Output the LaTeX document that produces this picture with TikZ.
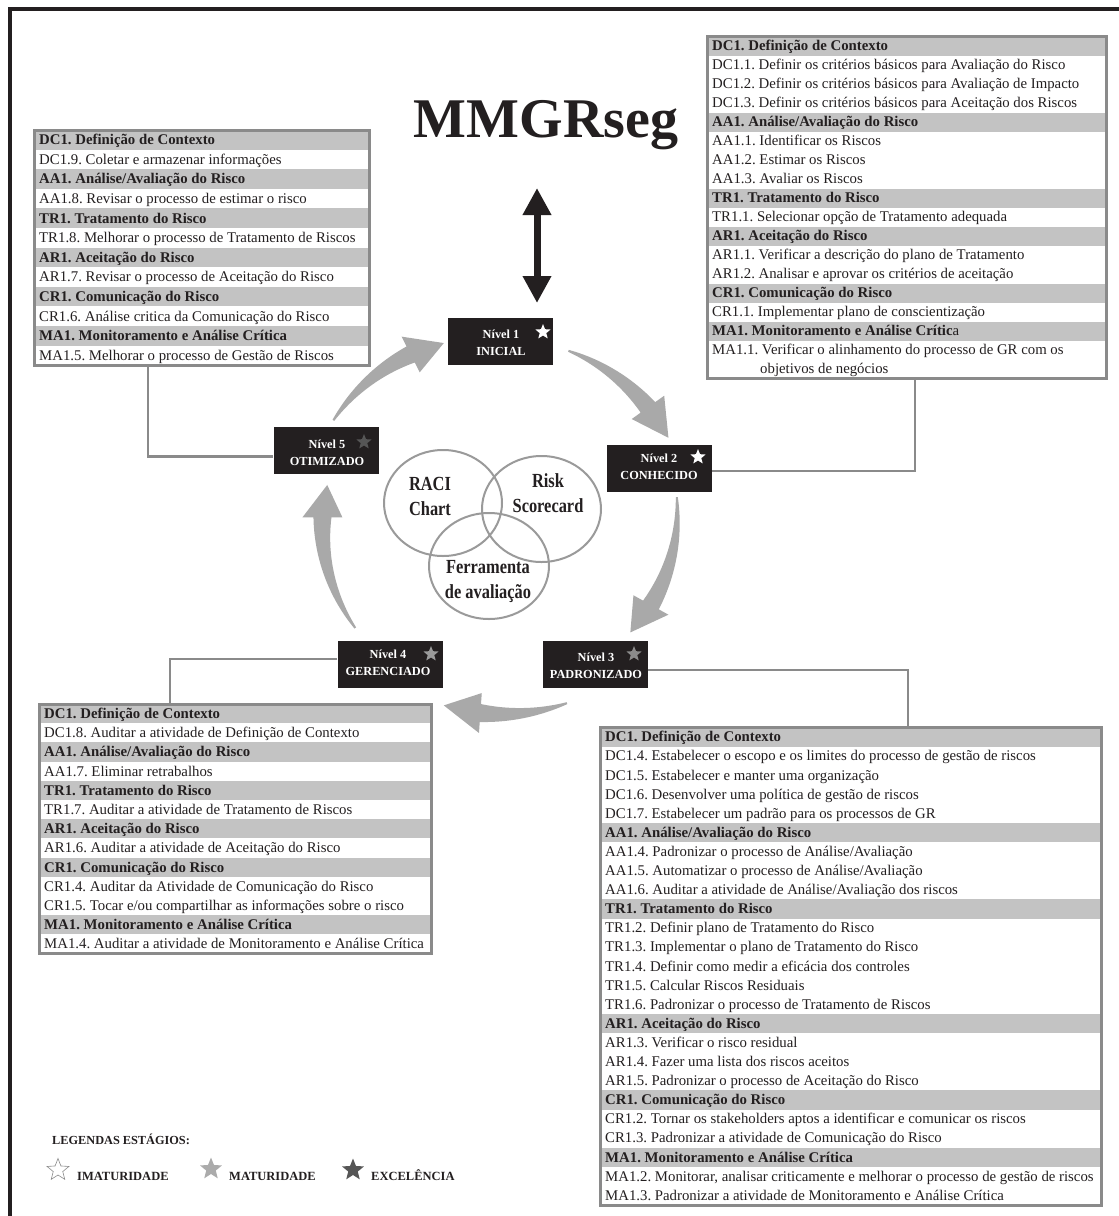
\documentclass[tikz,border=0pt]{standalone}
\usepackage{fontspec}
\setmainfont{Liberation Serif}
\newfontfamily\condfont[FakeStretch=0.82]{Liberation Serif}
\usetikzlibrary{shapes.geometric,arrows.meta,calc}
\frenchspacing
\definecolor{ink}{HTML}{231F20}
\definecolor{headgray}{HTML}{C3C3C3}
\definecolor{bordgray}{HTML}{8A8A8A}
\definecolor{arrgray}{HTML}{A9A9A9}
\definecolor{venngray}{HTML}{9A9A9A}
\definecolor{midstar}{HTML}{9A9A9A}
\definecolor{darkstar}{HTML}{565656}
\newcommand\rowfont{\fontsize{14.8}{17}\selectfont}
\newcommand\tbstart[4]{\def\tbx{#1}\def\tby{#2}\def\tbw{#3}\def\tbh{#4}\def\tbn{0}}
\newcommand\tbhead[1]{%
  \fill[headgray] (\tbx,{\tby+\tbn*\tbh}) rectangle ({\tbx+\tbw},{\tby+(\tbn+1)*\tbh});
  \node[rowtxt,font=\rowfont\bfseries] at ({\tbx+5},{\tby+(\tbn+0.5)*\tbh+4.8}) {#1};
  \pgfmathsetmacro\tbn{\tbn+1}}
\newcommand\tbrow[2][5]{%
  \node[rowtxt,font=\rowfont] at ({\tbx+#1},{\tby+(\tbn+0.5)*\tbh+4.8}) {#2};
  \pgfmathsetmacro\tbn{\tbn+1}}
\newcommand\tbend[1]{%
  \node[boxframe,anchor=north west,minimum width=\tbw,minimum height={\tbn*\tbh}] (#1) at (\tbx,\tby) {};}
\newcommand\cycarrow[4]{%
  \pgfmathsetmacro\cyS{#1}%
  \pgfmathsetmacro\cyE{#2}%
  \pgfmathsetmacro\cyB{#2+11}%
  \pgfmathsetmacro\cyRb{#3+(#4-(#3))*(\cyB-(\cyS))/(\cyE-(\cyS))}%
  \fill[arrgray] plot[domain=\cyS:\cyB,samples=30,variable=\t]
    ({494+(#3+(#4-(#3))*(\t-(\cyS))/(\cyE-(\cyS))+1+8*(\t-(\cyS))/(\cyB-(\cyS)))*cos(\t)},
     {518-(#3+(#4-(#3))*(\t-(\cyS))/(\cyE-(\cyS))+1+8*(\t-(\cyS))/(\cyB-(\cyS)))*sin(\t)})
    -- ({494+(\cyRb+20)*cos(\cyB)},{518-(\cyRb+20)*sin(\cyB)})
    -- ({494+(#4)*cos(\cyE)},{518-(#4)*sin(\cyE)})
    -- ({494+(\cyRb-20)*cos(\cyB)},{518-(\cyRb-20)*sin(\cyB)})
    -- plot[domain=\cyB:\cyS,samples=30,variable=\t]
    ({494+(#3+(#4-(#3))*(\t-(\cyS))/(\cyE-(\cyS))-1-8*(\t-(\cyS))/(\cyB-(\cyS)))*cos(\t)},
     {518-(#3+(#4-(#3))*(\t-(\cyS))/(\cyE-(\cyS))-1-8*(\t-(\cyS))/(\cyB-(\cyS)))*sin(\t)})
    -- cycle;}
\begin{document}
\begin{tikzpicture}[x=1pt,y=-1pt,
  rowtxt/.style={anchor=base west,inner sep=0pt,text=ink},
  boxframe/.style={draw=bordgray,line width=3pt,inner sep=0pt,outer sep=0pt},
  lvl/.style={fill=ink,minimum width=105,minimum height=47,inner sep=0pt},
  lvltxt/.style={text=white,font=\fontsize{12.3}{17}\selectfont\bfseries,align=center,inner sep=0pt},
  lstar/.style={star,star points=5,star point ratio=2.3,minimum size=16,inner sep=0pt},
  venn/.style={ellipse,draw=venngray,line width=2pt,inner sep=0pt},
  venntxt/.style={font=\condfont\bfseries\fontsize{20}{25}\selectfont,text=ink,align=center,inner sep=0pt},
  conn/.style={draw=bordgray,line width=2.5pt},
  legtxt/.style={font=\fontsize{12.5}{15}\selectfont\bfseries,text=ink,anchor=base west,inner sep=0pt}]
\useasboundingbox (0,0) rectangle (1119,1216);
\fill[white] (0,0) rectangle (1119,1216);
% frame
\draw[ink,line width=4pt] (9.5,1216) -- (9.5,9) -- (1119,9);
% title
\node[font=\fontsize{56}{60}\selectfont\bfseries,text=ink,anchor=base,inner sep=0pt] (title) at (546,137) {MMGRseg};
% double arrow
\coordinate (da1) at (537,188);
\coordinate (da2) at (537,303);
\draw[ink,line width=7pt,{Triangle[width=27pt,length=27pt]}-{Triangle[width=27pt,length=27pt]}] (da1) -- (da2);
% cycle arrows
\cycarrow{66}{24.7}{183}{192}
\cycarrow{6.5}{-40}{184}{178}
\cycarrow{-68.5}{-105}{199}{194}
\cycarrow{218.4}{168.8}{177}{170}
\cycarrow{148.7}{106}{188}{182}
% top-right box
\tbstart{707}{36.5}{399}{19}
\tbhead{DC1. Definição de Contexto}
\tbrow{DC1.1. Definir os critérios básicos para Avaliação do Risco}
\tbrow{DC1.2. Definir os critérios básicos para Avaliação de Impacto}
\tbrow{DC1.3. Definir os critérios básicos para Aceitação dos Riscos}
\tbhead{AA1. Análise/Avaliação do Risco}
\tbrow{AA1.1. Identificar os Riscos}
\tbrow{AA1.2. Estimar os Riscos}
\tbrow{AA1.3. Avaliar os Riscos}
\tbhead{TR1. Tratamento do Risco}
\tbrow{TR1.1. Selecionar opção de Tratamento adequada}
\tbhead{AR1. Aceitação do Risco}
\tbrow{AR1.1. Verificar a descrição do plano de Tratamento}
\tbrow{AR1.2. Analisar e aprovar os critérios de aceitação}
\tbhead{CR1. Comunicação do Risco}
\tbrow{CR1.1. Implementar plano de conscientização}
\tbhead{MA1. Monitoramento e Análise Crític\textmd{a}}
\tbrow{MA1.1. Verificar o alinhamento do processo de GR com os}
\tbrow[53]{objetivos de negócios}
\tbend{trbox}
% top-left box
\tbstart{34}{130}{335}{19.6}
\tbhead{DC1. Definição de Contexto}
\tbrow{DC1.9. Coletar e armazenar informações}
\tbhead{AA1. Análise/Avaliação do Risco}
\tbrow{AA1.8. Revisar o processo de estimar o risco}
\tbhead{TR1. Tratamento do Risco}
\tbrow{TR1.8. Melhorar o processo de Tratamento de Riscos}
\tbhead{AR1. Aceitação do Risco}
\tbrow{AR1.7. Revisar o processo de Aceitação do Risco}
\tbhead{CR1. Comunicação do Risco}
\tbrow{CR1.6. Análise critica da Comunicação do Risco}
\tbhead{MA1. Monitoramento e Análise Crítica}
\tbrow{MA1.5. Melhorar o processo de Gestão de Riscos}
\tbend{tlbox}
% bottom-left box
\tbstart{39}{704}{392}{19.2}
\tbhead{DC1. Definição de Contexto}
\tbrow{DC1.8. Auditar a atividade de Definição de Contexto}
\tbhead{AA1. Análise/Avaliação do Risco}
\tbrow{AA1.7. Eliminar retrabalhos}
\tbhead{TR1. Tratamento do Risco}
\tbrow{TR1.7. Auditar a atividade de Tratamento de Riscos}
\tbhead{AR1. Aceitação do Risco}
\tbrow{AR1.6. Auditar a atividade de Aceitação do Risco}
\tbhead{CR1. Comunicação do Risco}
\tbrow{CR1.4. Auditar da Atividade de Comunicação do Risco}
\tbrow{CR1.5. Tocar e/ou compartilhar as informações sobre o risco}
\tbhead{MA1. Monitoramento e Análise Crítica}
\tbrow{MA1.4. Auditar a atividade de Monitoramento e Análise Crítica}
\tbend{blbox}
% bottom-right box
\tbstart{600}{727.5}{501}{19.1}
\tbhead{DC1. Definição de Contexto}
\tbrow{DC1.4. Estabelecer o escopo e os limites do processo de gestão de riscos}
\tbrow{DC1.5. Estabelecer e manter uma organização}
\tbrow{DC1.6. Desenvolver uma política de gestão de riscos}
\tbrow{DC1.7. Estabelecer um padrão para os processos de GR}
\tbhead{AA1. Análise/Avaliação do Risco}
\tbrow{AA1.4. Padronizar o processo de Análise/Avaliação}
\tbrow{AA1.5. Automatizar o processo de Análise/Avaliação}
\tbrow{AA1.6. Auditar a atividade de Análise/Avaliação dos riscos}
\tbhead{TR1. Tratamento do Risco}
\tbrow{TR1.2. Definir plano de Tratamento do Risco}
\tbrow{TR1.3. Implementar o plano de Tratamento do Risco}
\tbrow{TR1.4. Definir como medir a eficácia dos controles}
\tbrow{TR1.5. Calcular Riscos Residuais}
\tbrow{TR1.6. Padronizar o processo de Tratamento de Riscos}
\tbhead{AR1. Aceitação do Risco}
\tbrow{AR1.3. Verificar o risco residual}
\tbrow{AR1.4. Fazer uma lista dos riscos aceitos}
\tbrow{AR1.5. Padronizar o processo de Aceitação do Risco}
\tbhead{CR1. Comunicação do Risco}
\tbrow{CR1.2. Tornar os stakeholders aptos a identificar e comunicar os riscos}
\tbrow{CR1.3. Padronizar a atividade de Comunicação do Risco}
\tbhead{MA1. Monitoramento e Análise Crítica}
\tbrow{MA1.2. Monitorar, analisar criticamente e melhorar o processo de gestão de riscos}
\tbrow{MA1.3. Padronizar a atividade de Monitoramento e Análise Crítica}
\tbend{brbox}
% level boxes
\node[lvl] (n1) at (500.5,341) {};
\node[lvl] (n2) at (659,468.5) {};
\node[lvl] (n3) at (595.5,664) {};
\node[lvl] (n4) at (390,664) {};
\node[lvl] (n5) at (326,450.5) {};
\node[lvltxt] (n1t) at (501,343) {Nível 1\\INICIAL};
\node[lvltxt] (n2t) at (659,467) {Nível 2\\CONHECIDO};
\node[lvltxt] (n3t) at (596,666) {Nível 3\\PADRONIZADO};
\node[lvltxt] (n4t) at (388,663) {Nível 4\\GERENCIADO};
\node[lvltxt] (n5t) at (327,453) {Nível 5\\OTIMIZADO};
\node[lstar,fill=white] (s1) at (543,332) {};
\node[lstar,fill=white] (s2) at (698,457) {};
\node[lstar,fill=midstar!90!black] (s3) at (634,654) {};
\node[lstar,fill=midstar] (s4) at (431,654) {};
\node[lstar,fill=darkstar] (s5) at (364,442) {};
% connectors
\coordinate (k5) at (148,0);
\coordinate (k2) at (915,0);
\coordinate (k4) at (170,0);
\coordinate (k3) at (908,0);
\draw[conn] (tlbox.south -| k5) |- ([yshift=-6pt]n5.west);
\draw[conn] (trbox.south -| k2) |- ([yshift=-2.5pt]n2.east);
\draw[conn] ([yshift=5pt]n4.west) -| (blbox.north -| k4);
\draw[conn] ([yshift=-6pt]n3.east) -| (brbox.north -| k3);
% venn
\node[venn,minimum width=118,minimum height=106] (raci) at (443,503) {};
\node[venn,minimum width=119,minimum height=106] (risk) at (541.5,509) {};
\node[venn,minimum width=120,minimum height=106] (ferr) at (489,566) {};
\node[venntxt] (racit) at (430,496) {RACI\\Chart};
\node[venntxt] (riskt) at (548,493) {Risk\\Scorecard};
\node[venntxt] (ferrt) at (488,582) {Ferramenta\\de avaliação};
% legend
\node[legtxt,font=\fontsize{12.3}{14}\selectfont\bfseries] (legt) at (52,1144) {LEGENDAS ESTÁGIOS:};
\node[lstar,draw=bordgray,fill=white,line width=0.6pt,minimum size=23] (ls1) at (58,1170) {};
\node[legtxt] (ll1) at (77,1180) {IMATURIDADE};
\node[lstar,fill=black!33,minimum size=23] (ls2) at (211,1169) {};
\node[legtxt] (ll2) at (229,1180) {MATURIDADE};
\node[lstar,fill=darkstar,minimum size=23] (ls3) at (353,1170) {};
\node[legtxt] (ll3) at (371,1180) {EXCELÊNCIA};
\end{tikzpicture}
\end{document}
